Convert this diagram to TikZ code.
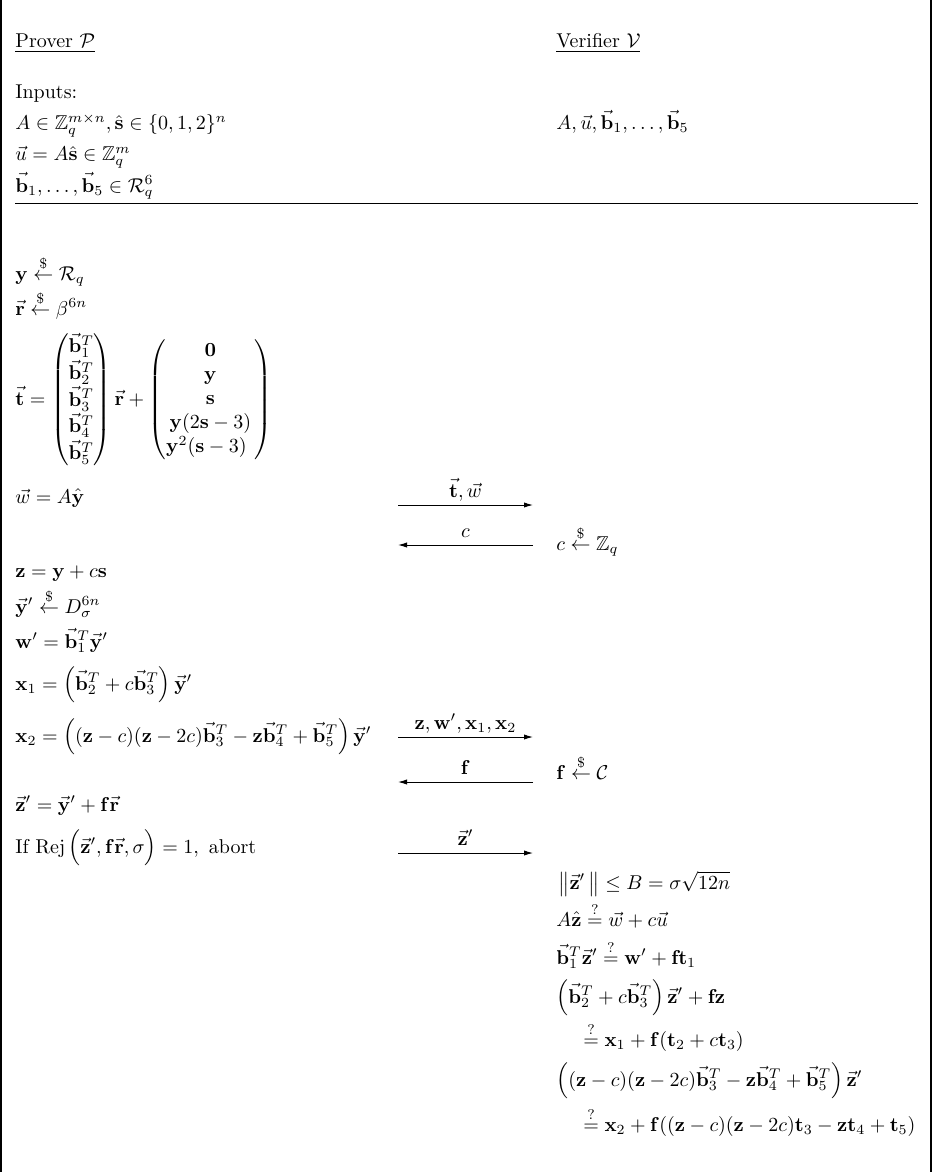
\documentclass[tikz,border=0pt]{standalone}
\usepackage{amsmath,amssymb}
\usetikzlibrary{arrows.meta}
\newcommand{\vbf}[1]{\vec{\mathbf{#1}}}
\newcommand{\sampl}{\stackrel{\$}{\leftarrow}}
\newcommand{\qeq}{\stackrel{?}{=}}
\begin{document}
\begin{tikzpicture}[x=0.5pt,y=-0.5pt,
  txt/.style={anchor=base west, inner sep=0pt},
  msg/.style={-{Latex[length=4.5pt,width=2.6pt]}, line width=0.45pt},
  lab/.style={anchor=base, inner sep=0pt, yshift=4pt},
  frame/.style={line width=0.6pt},
  rule/.style={line width=0.5pt}]
\useasboundingbox (0,0) rectangle (934,1172);
% frame
\coordinate (fl0) at (1,0); \coordinate (fl1) at (1,1172);
\coordinate (fr0) at (931,0); \coordinate (fr1) at (931,1172);
\draw[frame] (fl0) -- (fl1);
\draw[frame] (fr0) -- (fr1);
% headers
\node[txt] (hp) at (15,48) {\underline{Prover $\mathcal{P}$}};
\node[txt] (hv) at (556,48) {\underline{Verifier $\mathcal{V}$}};
% inputs
\node[txt] (in0) at (15,99) {Inputs:};
\node[txt] (in1) at (15,130) {$A\in\mathbb{Z}_q^{m\times n},\hat{\mathbf{s}}\in\{0,1,2\}^n$};
\node[txt] (in2) at (15,161) {$\vec{u}=A\hat{\mathbf{s}}\in\mathbb{Z}_q^{m}$};
\node[txt] (in3) at (15,192) {$\vbf{b}_1,\dots,\vbf{b}_5\in\mathcal{R}_q^6$};
\node[txt] (vin) at (556,130) {$A,\vec{u},\vbf{b}_1,\dots,\vbf{b}_5$};
\coordinate (hl0) at (15,203); \coordinate (hl1) at (918,203);
\draw[rule] (hl0) -- (hl1);
% prover steps
\node[txt] (p1) at (15,280) {$\mathbf{y}\sampl\mathcal{R}_q$};
\node[txt] (p2) at (15,315) {$\vbf{r}\sampl\beta^{6n}$};
\node[txt] (p3) at (15,405) {$\vbf{t}=\begin{pmatrix}\vbf{b}_1^T\\ \vbf{b}_2^T\\ \vbf{b}_3^T\\ \vbf{b}_4^T\\ \vbf{b}_5^T\end{pmatrix}\vbf{r}+\begin{pmatrix}\mathbf{0}\\ \mathbf{y}\\ \mathbf{s}\\ \mathbf{y}(2\mathbf{s}-3)\\ \mathbf{y}^2(\mathbf{s}-3)\hspace{4pt}\end{pmatrix}$};
\node[txt] (p4) at (15,503) {$\vec{w}=A\hat{\mathbf{y}}$};
\node[txt] (v1) at (556,550) {$c\sampl\mathbb{Z}_q$};
\node[txt] (p5) at (15,577) {$\mathbf{z}=\mathbf{y}+c\mathbf{s}$};
\node[txt] (p6) at (15,613) {$\vbf{y}'\sampl D_\sigma^{6n}$};
\node[txt] (p7) at (15,648) {$\mathbf{w}'=\vbf{b}_1^T\vbf{y}'$};
\node[txt] (p8) at (15,690) {$\mathbf{x}_1=\left(\vbf{b}_2^T+c\vbf{b}_3^T\right)\vbf{y}'$};
\node[txt] (p9) at (15,742) {$\mathbf{x}_2=\left((\mathbf{z}-c)(\mathbf{z}-2c)\vbf{b}_3^T-\mathbf{z}\vbf{b}_4^T+\vbf{b}_5^T\right)\vbf{y}'$};
\node[txt] (v2) at (556,779) {$\mathbf{f}\sampl\mathcal{C}$};
\node[txt] (p10) at (15,811) {$\vbf{z}'=\vbf{y}'+\mathbf{f}\vbf{r}$};
\node[txt] (p11) at (15,853) {If $\mathrm{Rej}\,\Bigl(\vbf{z}',\mathbf{f}\vbf{r},\sigma\Bigr)=1,\ \text{abort}$};
% verifier checks
\node[txt] (c1) at (558,889) {$\bigl\|\vbf{z}'\,\bigr\|\le B=\sigma\sqrt{12n}$};
\node[txt] (c2) at (556,926) {$A\hat{\mathbf{z}}\qeq\vec{w}+c\vec{u}$};
\node[txt] (c3) at (556,964) {$\vbf{b}_1^T\vbf{z}'\qeq\mathbf{w}'+\mathbf{f}\mathbf{t}_1$};
\node[txt] (c4) at (556,1003) {$\left(\vbf{b}_2^T+c\vbf{b}_3^T\right)\vbf{z}'+\mathbf{f}\mathbf{z}$};
\node[txt] (c5) at (583,1046) {$\qeq\mathbf{x}_1+\mathbf{f}(\mathbf{t}_2+c\mathbf{t}_3)$};
\node[txt] (c6) at (556,1086) {$\left((\mathbf{z}-c)(\mathbf{z}-2c)\vbf{b}_3^T-\mathbf{z}\vbf{b}_4^T+\vbf{b}_5^T\right)\vbf{z}'$};
\node[txt] (c7) at (583,1131) {$\qeq\mathbf{x}_2+\mathbf{f}((\mathbf{z}-c)(\mathbf{z}-2c)\mathbf{t}_3-\mathbf{z}\mathbf{t}_4+\mathbf{t}_5)$};
% messages
\coordinate (m1a) at (398,505); \coordinate (m1b) at (533,505);
\draw[msg] (m1a) -- node[lab] (l1) {$\vbf{t},\vec{w}$} (m1b);
\coordinate (m2a) at (533,545); \coordinate (m2b) at (398,545);
\draw[msg] (m2a) -- node[lab] (l2) {$c$} (m2b);
\coordinate (m3a) at (398,737); \coordinate (m3b) at (533,737);
\draw[msg] (m3a) -- node[lab] (l3) {$\mathbf{z},\mathbf{w}',\mathbf{x}_1,\mathbf{x}_2$} (m3b);
\coordinate (m4a) at (533,782); \coordinate (m4b) at (398,782);
\draw[msg] (m4a) -- node[lab] (l4) {$\mathbf{f}$} (m4b);
\coordinate (m5a) at (398,853); \coordinate (m5b) at (533,853);
\draw[msg] (m5a) -- node[lab] (l5) {$\vbf{z}'$} (m5b);
\end{tikzpicture}
\end{document}
